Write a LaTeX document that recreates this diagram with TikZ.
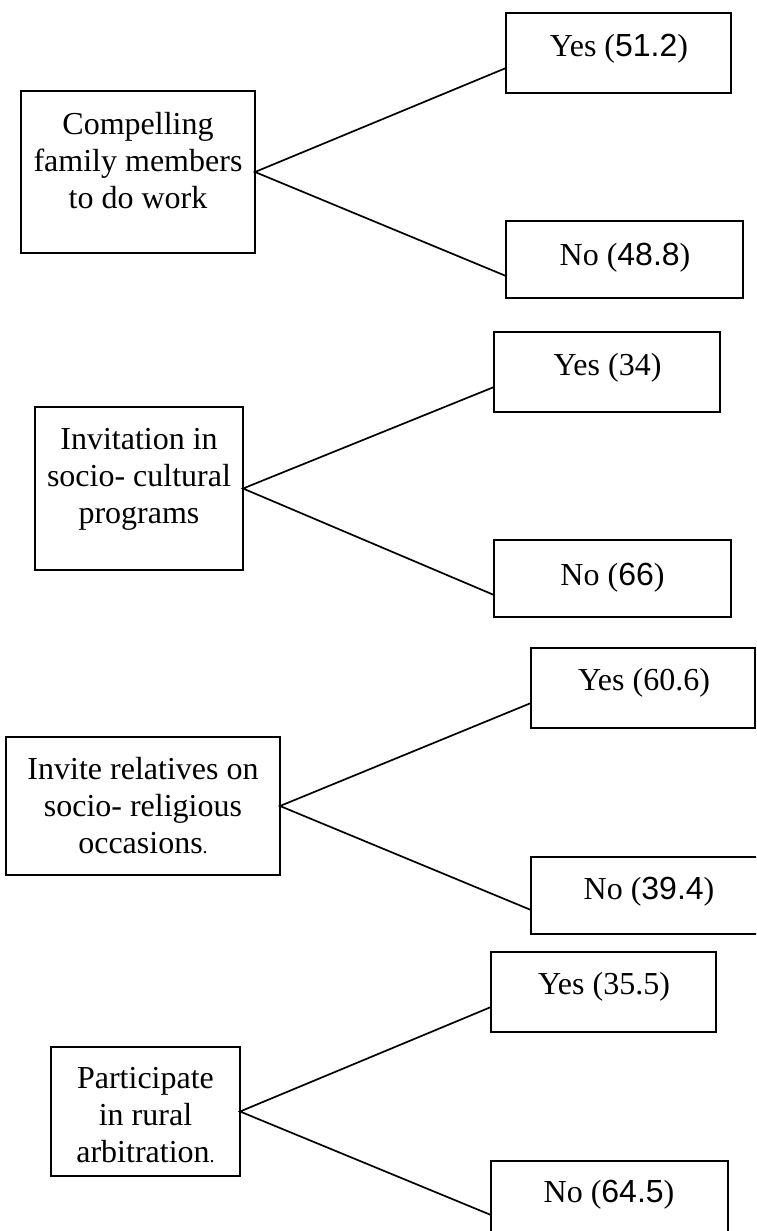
\documentclass[tikz,border=0pt]{standalone}
\usepackage{fontspec}
\setmainfont{Liberation Serif}
\newfontfamily\arialf{Liberation Sans}
\usetikzlibrary{fit,calc}
\tikzset{
  qbox/.style={draw=black, line width=2.4pt, inner sep=0pt, outer sep=0pt},
  abox/.style={draw=black, line width=2pt, inner sep=0pt, outer sep=0pt},
  conn/.style={draw=black, line width=1.7pt},
  qtxt/.style={align=center, inner sep=0pt, font=\fontsize{32}{37}\selectfont},
  atxt/.style={anchor=base, inner sep=0pt, font=\fontsize{32}{37}\selectfont},
}
\newcommand{\sn}[1]{{\arialf #1}}
\newcommand{\sdot}{{\fontsize{20}{20}\selectfont .}}
\begin{document}
\begin{tikzpicture}[x=1pt,y=-1pt]
\useasboundingbox (0,0) rectangle (756,1231);
\fill[white] (0,0) rectangle (756,1231);
\clip (0,0) rectangle (756,1231);

% Block 1
\node[qbox, fit={(21,91) (255,253)}] (q1) {};
\node[qtxt] (t1) at (138,160.5) {Compelling\\family members\\to do work};
\node[abox, fit={(506,13) (731,93)}] (y1) {};
\node[atxt] (ty1) at (619,57) {Yes (\sn{51.2})};
\node[abox, fit={(506,221) (743,298)}] (n1) {};
\node[atxt] (tn1) at (625,265) {No (\sn{48.8})};
\draw[conn] ([yshift=-55pt]y1.north west) -- (q1.east) -- ([yshift=-55pt]n1.north west);

% Block 2
\node[qbox, fit={(35,407) (243,570)}] (q2) {};
\node[qtxt] (t2) at (139,479) {Invitation in\\socio- cultural\\programs};
\node[abox, fit={(494,332) (720,412)}] (y2) {};
\node[atxt] (ty2) at (607.5,375.5) {Yes (34)};
\node[abox, fit={(494,540) (731,617)}] (n2) {};
\node[atxt] (tn2) at (612.5,585) {No (\sn{66})};
\draw[conn] ([yshift=-55pt]y2.north west) -- (q2.east) -- ([yshift=-55pt]n2.north west);

% Block 3
\node[qbox, fit={(6,737) (280,875)}] (q3) {};
\node[qtxt] (t3) at (143,805.5) {Invite relatives on\\socio- religious\\occasions\sdot};
\node[abox, fit={(531,648) (755,728)}] (y3) {};
\node[atxt] (ty3) at (644,690.5) {Yes (60.6)};
\node[abox, fit={(531,857) (775,934)}] (n3) {};
\node[atxt] (tn3) at (649,899.5) {No (\sn{39.4})};
\draw[conn] ([yshift=-55pt]y3.north west) -- (q3.east) -- ([yshift=-53pt]n3.north west);

% Block 4
\node[qbox, fit={(51,1047) (240,1176)}] (q4) {};
\node[qtxt] (t4) at (145.5,1115) {Participate\\in rural\\arbitration\sdot};
\node[abox, fit={(491,952) (716,1032)}] (y4) {};
\node[atxt] (ty4) at (604,994.5) {Yes (35.5)};
\node[abox, fit={(491,1161) (728,1245)}] (n4) {};
\node[atxt] (tn4) at (609,1202.5) {No (\sn{64.5})};
\draw[conn] ([yshift=-55pt]y4.north west) -- (q4.east) -- ([yshift=-54pt]n4.north west);
\end{tikzpicture}
\end{document}
